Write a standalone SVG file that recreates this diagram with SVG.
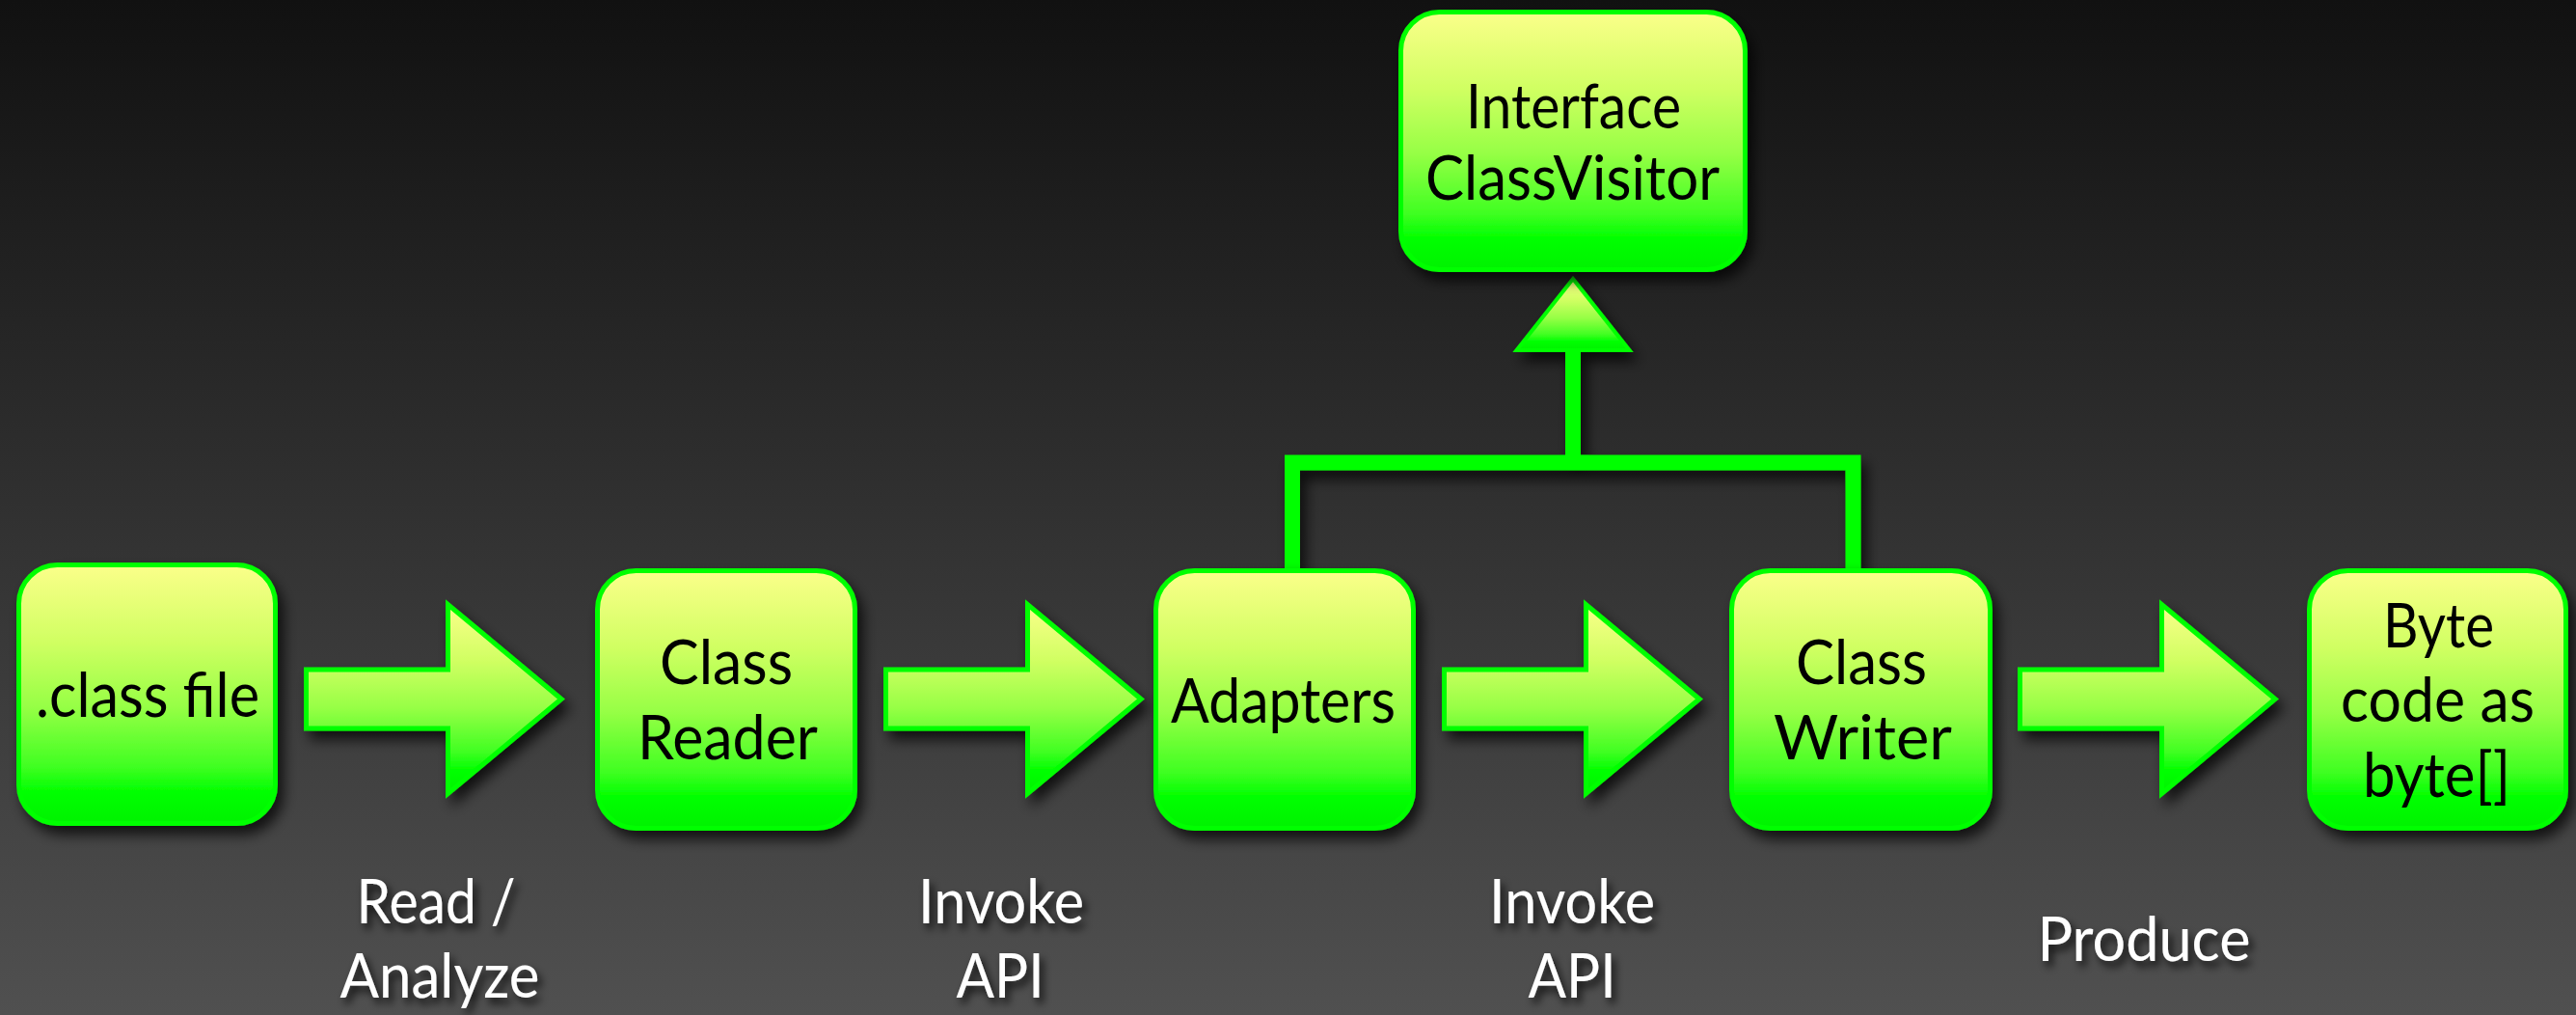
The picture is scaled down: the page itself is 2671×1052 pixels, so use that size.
<svg xmlns="http://www.w3.org/2000/svg" width="2671" height="1052" viewBox="0 0 2671 1052">
  <defs>
    <linearGradient id="bg" x1="0" y1="0" x2="0" y2="1">
      <stop offset="0" stop-color="#111111"/>
      <stop offset="1" stop-color="#505050"/>
    </linearGradient>
    <linearGradient id="gloss" x1="0" y1="0" x2="0" y2="1">
      <stop offset="0" stop-color="#fbff8a"/>
      <stop offset="0.3" stop-color="#d0ff62"/>
      <stop offset="0.55" stop-color="#96ff45"/>
      <stop offset="0.78" stop-color="#40ff22"/>
      <stop offset="0.88" stop-color="#00ff00"/>
      <stop offset="1" stop-color="#00f200"/>
    </linearGradient>
    <filter id="shadow" x="-20%" y="-20%" width="150%" height="150%">
      <feDropShadow dx="6" dy="9" stdDeviation="7" flood-color="#000" flood-opacity="0.75"/>
    </filter>
    <!-- user-space region so thin straight strokes keep their shadow -->
    <filter id="lineShadow" filterUnits="userSpaceOnUse" x="0" y="0" width="2671" height="1052">
      <feDropShadow dx="6" dy="9" stdDeviation="7" flood-color="#000" flood-opacity="0.75"/>
    </filter>
    <filter id="textShadow" x="-20%" y="-30%" width="150%" height="170%">
      <feDropShadow dx="4" dy="6" stdDeviation="4" flood-color="#000" flood-opacity="0.8"/>
    </filter>
    <!-- block arrow, origin at the tail, centred vertically -->
    <path id="blockArrow" d="M2.5,-30.5 H149.5 V-98 L267,0 L149.5,98 V30.5 H2.5 Z"/>
    <style>
      .box { fill: url(#gloss); stroke: #00ff00; stroke-width: 5; filter: url(#shadow); }
      .arrow { fill: url(#gloss); stroke: #00ff00; stroke-width: 5; stroke-linejoin: miter; filter: url(#shadow); }
      .link { fill: none; stroke: #00ff00; stroke-width: 16; stroke-linejoin: miter; stroke-linecap: butt; }
      .head { fill: url(#gloss); stroke: #00ff00; stroke-width: 4; }
      .label { font-family: "Lato", "Liberation Sans", sans-serif; font-size: 64px; fill: #000; text-anchor: middle; }
      .caption { font-family: "Lato", "Liberation Sans", sans-serif; font-size: 64px; fill: #ffffff; text-anchor: middle; filter: url(#textShadow); }
    </style>
  </defs>

  <rect x="0" y="0" width="2671" height="1052" fill="url(#bg)"/>

  <g id="connectors">
    <!-- inheritance: Adapters and ClassWriter implement ClassVisitor -->
    <g filter="url(#lineShadow)">
      <polyline class="link" points="1340,590 1340,479.5 1921.5,479.5 1921.5,590"/>
      <line class="link" x1="1631" y1="487" x2="1631" y2="362"/>
      <polygon class="head" points="1631,289 1572.5,363 1689.5,363"/>
    </g>

    <use href="#blockArrow" class="arrow" transform="translate(315,724.5)"/>
    <use href="#blockArrow" class="arrow" transform="translate(916,724.5)"/>
    <use href="#blockArrow" class="arrow" transform="translate(1495,724.5)"/>
    <use href="#blockArrow" class="arrow" transform="translate(2092,724.5)"/>
  </g>

  <g id="classFile">
    <rect class="box" x="19.5" y="585.5" width="266" height="268" rx="40"/>
    <text class="label" x="153" y="743" textLength="232" lengthAdjust="spacingAndGlyphs">.class file</text>
  </g>

  <g id="classReader">
    <rect class="box" x="619.5" y="591.5" width="267" height="267" rx="40"/>
    <text class="label" x="753" y="709" textLength="138" lengthAdjust="spacingAndGlyphs">Class</text>
    <text class="label" x="754.5" y="787" textLength="187" lengthAdjust="spacingAndGlyphs">Reader</text>
  </g>

  <g id="adapters">
    <rect class="box" x="1198.5" y="591.5" width="267" height="267" rx="40"/>
    <text class="label" x="1330.5" y="749" textLength="233" lengthAdjust="spacingAndGlyphs">Adapters</text>
  </g>

  <g id="classWriter">
    <rect class="box" x="1795.5" y="591.5" width="268" height="267" rx="40"/>
    <text class="label" x="1930" y="709" textLength="136" lengthAdjust="spacingAndGlyphs">Class</text>
    <text class="label" x="1931.5" y="787" textLength="185" lengthAdjust="spacingAndGlyphs">Writer</text>
  </g>

  <g id="byteCode">
    <rect class="box" x="2394.5" y="591.5" width="266" height="267" rx="40"/>
    <text class="label" x="2528.5" y="671" textLength="115" lengthAdjust="spacingAndGlyphs">Byte</text>
    <text class="label" x="2527.5" y="748" textLength="201" lengthAdjust="spacingAndGlyphs">code as</text>
    <text class="label" x="2526.5" y="826" textLength="153" lengthAdjust="spacingAndGlyphs">byte[]</text>
  </g>

  <g id="classVisitor">
    <rect class="box" x="1452.5" y="12.5" width="357" height="267" rx="40"/>
    <text class="label" x="1631.5" y="133" textLength="223" lengthAdjust="spacingAndGlyphs">Interface</text>
    <text class="label" x="1630.5" y="207" textLength="305" lengthAdjust="spacingAndGlyphs">ClassVisitor</text>
  </g>

  <g id="captions">
    <text class="caption" x="452" y="957" textLength="165" lengthAdjust="spacingAndGlyphs">Read /</text>
    <text class="caption" x="456" y="1034" textLength="207" lengthAdjust="spacingAndGlyphs">Analyze</text>
    <text class="caption" x="1038" y="957" textLength="172" lengthAdjust="spacingAndGlyphs">Invoke</text>
    <text class="caption" x="1037" y="1034" textLength="91" lengthAdjust="spacingAndGlyphs">API</text>
    <text class="caption" x="1630" y="957" textLength="172" lengthAdjust="spacingAndGlyphs">Invoke</text>
    <text class="caption" x="1630" y="1034" textLength="91" lengthAdjust="spacingAndGlyphs">API</text>
    <text class="caption" x="2223" y="996" textLength="221" lengthAdjust="spacingAndGlyphs">Produce</text>
  </g>
</svg>
